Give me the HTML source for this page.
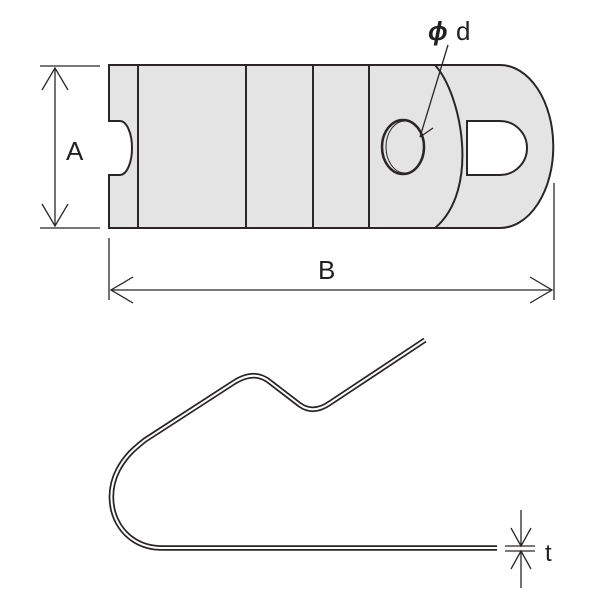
<!DOCTYPE html>
<html><head><style>body{margin:0;background:#fff}svg{display:block}</style></head><body>
<svg width="600" height="600" viewBox="0 0 600 600" xmlns="http://www.w3.org/2000/svg">
<g stroke="#2a2626" stroke-width="2" fill="#e4e4e4">
<path d="M109,65 L500,65 A53,81 0 0 1 500,228 L109,228 L109,175 L120,175 A12,27 0 0 0 120,121 L109,121 Z"/>
<path d="M467,121 L500,121 A27,27 0 0 1 500,175 L467,175 Z" fill="#fff"/>
<path d="M435,65 C462,95 480,190 435,228" fill="none"/>
<line x1="138" y1="65" x2="138" y2="228"/>
<line x1="246" y1="65" x2="246" y2="228"/>
<line x1="313" y1="65" x2="313" y2="228"/>
<line x1="369" y1="65" x2="369" y2="228"/>
<ellipse cx="403" cy="147" rx="21" ry="27" stroke-width="2.5"/>
<ellipse cx="405" cy="147" rx="19" ry="26" fill="none" stroke-width="1"/>
</g>
<g stroke="#2a2626" stroke-width="1.3" fill="none">
<line x1="448" y1="45" x2="420" y2="137"/>
<line x1="420" y1="137" x2="433" y2="128"/>
<line x1="40" y1="66" x2="100" y2="66"/>
<line x1="40" y1="228" x2="100" y2="228"/>
<line x1="55" y1="68" x2="55" y2="226"/>
<path d="M42,90 L55,68 L68,90 M42,204 L55,226 L68,204"/>
<line x1="109" y1="238" x2="109" y2="300"/>
<line x1="554" y1="183" x2="554" y2="300"/>
<line x1="111" y1="290" x2="552" y2="290"/>
<path d="M133,277 L111,290 L133,303 M530,277 L552,290 L530,303"/>
<line x1="505" y1="546" x2="535" y2="546"/>
<line x1="505" y1="551" x2="535" y2="551"/>
<line x1="521" y1="510" x2="521" y2="546"/>
<line x1="521" y1="551" x2="521" y2="588"/>
<path d="M511,528 L521,546 L531,528 M511,569 L521,551 L531,569"/>
</g>
<path d="M497,548 L162,548 C120,548 100,505 118,470 C126,455 135,448 145,440 L233,383 C245,375 258,372 270,382 L300,405 C310,412 320,410 330,403 L425,340" fill="none" stroke="#2a2626" stroke-width="5.5"/>
<path d="M497,548 L162,548 C120,548 100,505 118,470 C126,455 135,448 145,440 L233,383 C245,375 258,372 270,382 L300,405 C310,412 320,410 330,403 L425,340" fill="none" stroke="#fff" stroke-width="2"/>
<g font-family="Liberation Sans, sans-serif" fill="#222">
<text x="66" y="160" font-size="26">A</text>
<text x="318" y="279" font-size="26">B</text>
<text x="428" y="40" font-size="26" font-style="italic" font-weight="bold">ϕ</text>
<text x="456" y="40" font-size="26">d</text>
<text x="545" y="561" font-size="24">t</text>
</g>
</svg>
</body></html>
